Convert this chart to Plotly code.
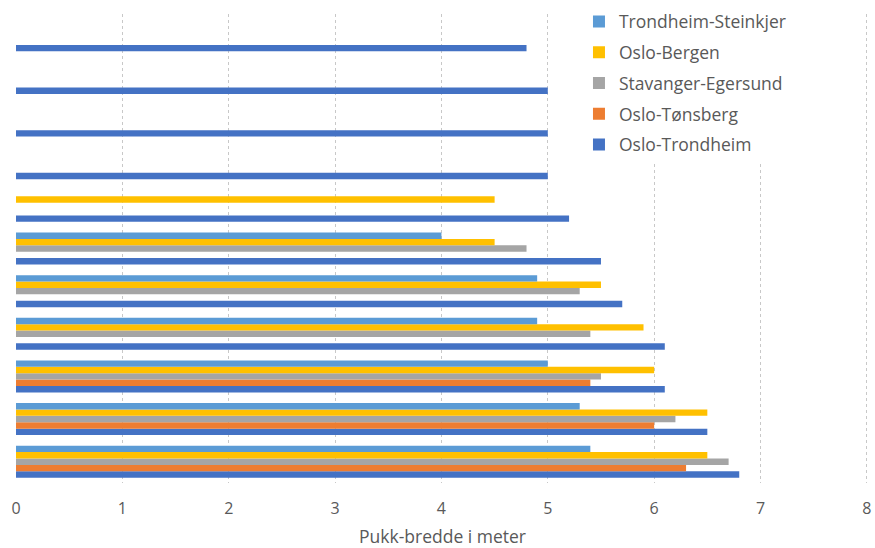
import plotly.graph_objects as go

# Road segments (bottom to top on the category axis)
segments = ["1", "2", "3", "4", "5", "6", "7", "8", "9", "10", "11"]

oslo_trondheim = [6.8, 6.5, 6.1, 6.1, 5.7, 5.5, 5.2, 5.0, 5.0, 5.0, 4.8]
oslo_tonsberg = [6.3, 6.0, 5.4, None, None, None, None, None, None, None, None]
stavanger_egersund = [6.7, 6.2, 5.5, 5.4, 5.3, 4.8, None, None, None, None, None]
oslo_bergen = [6.5, 6.5, 6.0, 5.9, 5.5, 4.5, 4.5, None, None, None, None]
trondheim_steinkjer = [5.4, 5.3, 5.0, 4.9, 4.9, 4.0, None, None, None, None, None]

x_ticks = [0, 1, 2, 3, 4, 5, 6, 7, 8]

series = [
    ("Oslo-Trondheim", oslo_trondheim, "#4472C4"),
    ("Oslo-Tønsberg", oslo_tonsberg, "#ED7D31"),
    ("Stavanger-Egersund", stavanger_egersund, "#A5A5A5"),
    ("Oslo-Bergen", oslo_bergen, "#FFC000"),
    ("Trondheim-Steinkjer", trondheim_steinkjer, "#5B9BD5"),
]

fig = go.Figure()
for i, (name, vals, color) in enumerate(series):
    fig.add_trace(go.Bar(
        name=name, x=vals, y=segments, orientation="h",
        marker=dict(color=color, line=dict(width=0)),
        legendgroup=name, legendrank=100 - i,
    ))

fig.update_layout(
    width=875, height=548,
    margin=dict(l=15.5, r=3.8, t=12, b=64),
    paper_bgcolor="white", plot_bgcolor="white",
    barmode="group", bargap=0.25, bargroupgap=0,
    font=dict(family="Open Sans, Lato, sans-serif", color="#595959"),
    legend=dict(
        x=0.66, y=1.022, xanchor="left", yanchor="top",
        bgcolor="white", traceorder="grouped",
        tracegroupgap=5, font=dict(size=17.5, color="#595959"),
        itemwidth=30,
    ),
    xaxis=dict(
        range=[0, 8.02], tickvals=x_ticks, ticktext=[str(t) for t in x_ticks],
        showgrid=True, gridcolor="#C8C8C8", griddash="dot", gridwidth=1,
        zeroline=False, showline=False, ticks="", ticklabelstandoff=14,
        tickfont=dict(size=16, color="#595959"),
        title=dict(text="Pukk-bredde i meter", font=dict(size=17.5, color="#595959"), standoff=13),
    ),
    yaxis=dict(
        type="category", categoryarray=segments,
        showticklabels=False, showgrid=False, zeroline=False, showline=False, ticks="",
    ),
)

fig.write_html("out.html")
